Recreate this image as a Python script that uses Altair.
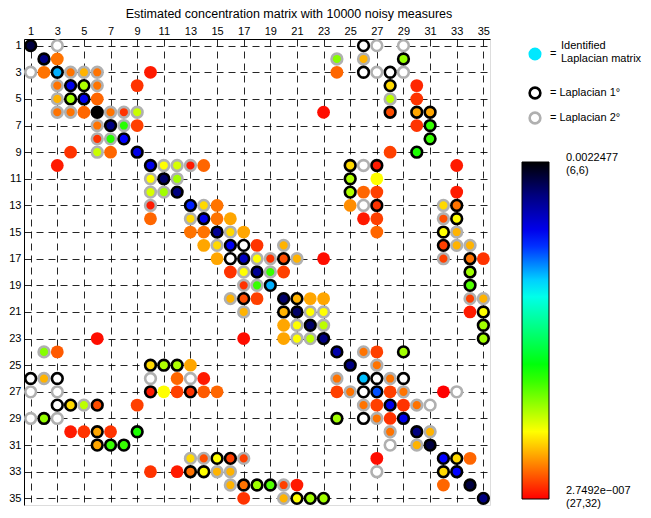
import altair as alt
import pandas as pd

title_text = "Estimated concentration matrix with 10000 noisy measures"
tick_values = list(range(1, 36, 2))

# cells: (row, col, position on the colour bar: 0 = red/min ... 1 = black/max)
plain_cells = [
    (2, 3, 0.09), (3, 2, 0.09), (3, 10, 0.02), (10, 3, 0.02), (4, 9, 0.04), (9, 4, 0.04),
    (5, 6, 0.08), (6, 5, 0.08), (7, 9, 0.05), (9, 7, 0.08), (3, 24, 0.08), (24, 3, 0.07),
    (6, 23, 0.01), (23, 6, 0.01), (4, 30, 0.03), (30, 4, 0.02), (5, 30, 0.04), (30, 5, 0.04),
    (7, 30, 0.04), (30, 7, 0.04), (9, 28, 0.05), (28, 9, 0.05), (10, 33, 0.02), (33, 10, 0.04),
    (12, 33, 0.02), (33, 12, 0.02), (10, 14, 0.08), (14, 10, 0.08), (13, 15, 0.09), (15, 13, 0.09),
    (14, 15, 0.09), (15, 14, 0.09), (14, 16, 0.13), (16, 14, 0.13), (15, 17, 0.13), (17, 15, 0.13),
    (16, 18, 0.04), (18, 16, 0.04), (18, 20, 0.05), (20, 18, 0.05), (17, 23, 0.01), (23, 17, 0.01),
    (20, 22, 0.13), (22, 20, 0.13), (20, 23, 0.13), (23, 20, 0.13), (11, 27, 0.2), (27, 11, 0.2),
    (12, 26, 0.08), (26, 12, 0.08), (12, 27, 0.05), (27, 12, 0.05), (13, 25, 0.11), (25, 13, 0.13),
    (14, 26, 0.02), (26, 14, 0.02), (14, 27, 0.05), (27, 14, 0.07), (15, 27, 0.08), (27, 15, 0.08),
    (17, 35, 0.04), (35, 17, 0.04), (21, 34, 0.02), (34, 21, 0.02), (24, 27, 0.05), (27, 24, 0.05),
    (27, 28, 0.05), (28, 27, 0.05), (28, 29, 0.04), (29, 28, 0.04), (27, 32, 0.0), (32, 27, 0.01),
    (32, 34, 0.08), (34, 32, 0.08),
]

black_ring_cells = [
    (1, 1, 0.95), (2, 2, 0.9), (3, 3, 0.67), (4, 4, 0.8), (5, 5, 0.8), (6, 6, 1.0),
    (7, 7, 0.9), (8, 8, 0.78), (9, 9, 0.8), (10, 10, 0.8), (11, 11, 0.92), (12, 12, 0.9),
    (13, 13, 0.76), (14, 14, 0.8), (15, 15, 0.88), (16, 16, 0.79), (17, 17, 0.84), (18, 18, 0.88),
    (19, 19, 0.67), (20, 20, 0.92), (21, 21, 0.92), (22, 22, 0.92), (23, 23, 0.9), (24, 24, 0.86),
    (25, 25, 0.9), (26, 26, 0.66), (27, 27, 0.73), (28, 28, 0.8), (29, 29, 0.8), (30, 30, 0.9),
    (31, 31, 0.95), (32, 32, 0.78), (33, 33, 0.78), (34, 34, 0.95), (35, 35, 0.9),
    (4, 5, 0.26), (5, 4, 0.27), (2, 29, 0.28), (29, 2, 0.28), (4, 28, 0.17), (28, 4, 0.17),
    (6, 28, 0.06), (28, 6, 0.06), (6, 30, 0.13), (30, 6, 0.13), (6, 31, 0.13), (31, 6, 0.13),
    (7, 31, 0.35), (31, 7, 0.35), (8, 31, 0.35), (31, 8, 0.35), (9, 30, 0.37), (30, 9, 0.37),
    (10, 25, 0.17), (25, 10, 0.17), (10, 27, 0.02), (27, 10, 0.02), (11, 25, 0.26), (25, 11, 0.26),
    (12, 25, 0.26), (25, 12, 0.26), (13, 27, 0.04), (27, 13, 0.04), (13, 33, 0.09), (33, 13, 0.09),
    (14, 33, 0.2), (33, 14, 0.2), (15, 32, 0.2), (32, 15, 0.2), (16, 32, 0.05), (32, 16, 0.05),
    (17, 20, 0.06), (20, 17, 0.06), (20, 21, 0.14), (21, 20, 0.14), (17, 34, 0.09), (34, 17, 0.09),
    (18, 34, 0.27), (34, 18, 0.27), (19, 34, 0.33), (34, 19, 0.33), (21, 35, 0.2), (35, 21, 0.2),
    (22, 35, 0.27), (35, 22, 0.27), (23, 35, 0.27), (35, 23, 0.27), (24, 29, 0.27), (29, 24, 0.27),
    (32, 33, 0.17), (33, 32, 0.17),
]

gray_ring_cells = [
    (3, 4, 0.09), (4, 3, 0.09), (3, 5, 0.14), (5, 3, 0.14), (3, 6, 0.09), (6, 3, 0.09),
    (4, 6, 0.09), (6, 4, 0.09), (6, 7, 0.09), (7, 6, 0.09), (6, 8, 0.04), (8, 6, 0.04),
    (6, 9, 0.24), (9, 6, 0.24), (7, 8, 0.36), (8, 7, 0.36), (2, 24, 0.29), (24, 2, 0.29),
    (2, 26, 0.14), (26, 2, 0.14), (5, 28, 0.25), (28, 5, 0.25), (10, 11, 0.2), (11, 10, 0.2),
    (10, 12, 0.23), (12, 10, 0.23), (11, 12, 0.27), (12, 11, 0.27), (10, 13, 0.02), (13, 10, 0.02),
    (13, 14, 0.17), (14, 13, 0.17), (15, 16, 0.17), (16, 15, 0.17), (16, 20, 0.14), (20, 16, 0.14),
    (17, 18, 0.2), (18, 17, 0.2), (17, 19, 0.04), (19, 17, 0.04), (17, 21, 0.14), (21, 17, 0.14),
    (18, 19, 0.35), (19, 18, 0.35), (21, 22, 0.2), (22, 21, 0.2), (21, 23, 0.2), (23, 21, 0.2),
    (22, 23, 0.25), (23, 22, 0.25), (13, 32, 0.17), (32, 13, 0.17), (14, 32, 0.06), (32, 14, 0.06),
    (15, 33, 0.14), (33, 15, 0.14), (16, 33, 0.14), (33, 16, 0.14), (16, 34, 0.14), (34, 16, 0.14),
    (17, 32, 0.05), (32, 17, 0.05), (20, 34, 0.05), (34, 20, 0.05), (20, 35, 0.14), (35, 20, 0.14),
    (24, 26, 0.09), (26, 24, 0.09), (25, 27, 0.09), (27, 25, 0.09), (26, 28, 0.09), (28, 26, 0.09),
    (27, 29, 0.09), (29, 27, 0.09), (28, 30, 0.09), (30, 28, 0.09), (30, 31, 0.14), (31, 30, 0.14),
]

black_ring_empty = [
    (1, 26), (26, 1), (3, 26), (26, 3), (3, 28), (28, 3), (16, 17), (17, 16),
    (26, 27), (27, 26), (26, 29), (29, 26),
]

gray_ring_empty = [
    (1, 3), (3, 1), (1, 27), (27, 1), (1, 29), (29, 1), (3, 27), (27, 3), (3, 29), (29, 3),
    (10, 26), (26, 10), (13, 26), (26, 13), (27, 33), (33, 27), (28, 31), (31, 28),
]

cbar_stops = [0.0, 0.1, 0.2, 0.39, 0.62, 0.78, 0.9, 1.0]
cbar_colors = ["#ff0000", "#ff8000", "#ffff00", "#00ff00", "#00ffff", "#0000ff", "#000080", "#000000"]
cbar_top_label = ["0.0022477", "(6,6)"]
cbar_bottom_label = ["2.7492e\u2212007", "(27,32)"]
ring_names = ["L1", "L2"]
ring_colors = ["#000000", "#b0b0b0"]
ring_labels = ["= Laplacian 1\u00b0", "= Laplacian 2\u00b0"]
ident_name = "Identified"
ident_text_name = "Identified text"
ident_lines = ["Identified", "Laplacian matrix"]
ident_color = "#00e8ff"

FONT = "Liberation Sans"


def js_list(items):
    return "[" + ", ".join("'" + s + "'" for s in items) + "]"


plain = pd.DataFrame(plain_cells, columns=["row", "col", "level"])
plain["ident"] = ident_name
plain["ident_text"] = ident_text_name
rings = pd.concat([
    pd.DataFrame(black_ring_cells, columns=["row", "col", "level"]).assign(ring=ring_names[0]),
    pd.DataFrame(gray_ring_cells, columns=["row", "col", "level"]).assign(ring=ring_names[1]),
])
empties = pd.concat([
    pd.DataFrame(black_ring_empty, columns=["row", "col"]).assign(ring=ring_names[0]),
    pd.DataFrame(gray_ring_empty, columns=["row", "col"]).assign(ring=ring_names[1]),
])

xscale = alt.Scale(domain=[0.5, 35.5], nice=False, zero=False)
yscale = alt.Scale(domain=[0.5, 35.5], nice=False, zero=False, reverse=True)
fill_scale = alt.Scale(domain=cbar_stops, range=cbar_colors, interpolate="rgb")
stroke_scale = alt.Scale(domain=ring_names, range=ring_colors)

grid_kw = dict(grid=True, gridDash=[7, 5], gridColor="#000000", gridWidth=1, gridOpacity=0.85,
               ticks=False, labelFontSize=11, labelFont=FONT, labelColor="#000000",
               domainColor="#000000", domainWidth=1, title=None, labelFlush=False)
x_enc = alt.X("col:Q", scale=xscale,
              axis=alt.Axis(orient="top", values=tick_values, labelPadding=3, labelAngle=0, **grid_kw))
y_enc = alt.Y("row:Q", scale=yscale,
              axis=alt.Axis(orient="left", values=tick_values, labelPadding=3, **grid_kw))

cbar_legend = alt.Legend(
    orient="none", legendX=498, legendY=123, direction="vertical", title=None, padding=0,
    gradientLength=337, gradientThickness=27, gradientStrokeColor="#000000", gradientStrokeWidth=1,
    values=[0.024, 1.031],
    labelExpr=f"datum.value >= 1 ? {js_list(cbar_top_label)} : {js_list(cbar_bottom_label)}",
    labelFontSize=11, labelFont=FONT, labelColor="#000000", labelOffset=17, labelOverlap=False,
)
fill_enc = alt.Fill("level:Q", scale=fill_scale, legend=cbar_legend)

ring_expr = f"datum.value == '{ring_names[0]}' ? '{ring_labels[0]}' : '{ring_labels[1]}'"
ring_legend = alt.Legend(
    orient="none", legendX=504, legendY=47, title=None, padding=0, symbolType="circle",
    symbolSize=115, symbolStrokeWidth=2.6, symbolFillColor="#ffffff", rowPadding=3,
    labelExpr=ring_expr, labelFontSize=11, labelFont=FONT, labelColor="#000000", labelOffset=8,
)
stroke_enc = alt.Stroke("ring:N", scale=stroke_scale, legend=ring_legend)

ident_legend = alt.Legend(
    orient="none", legendX=504, legendY=8, title=None, padding=0, symbolType="circle",
    symbolSize=170, symbolFillColor=ident_color, symbolStrokeColor=ident_color, symbolStrokeWidth=0,
    labelExpr="'='", labelFontSize=11, labelFont=FONT, labelColor="#000000", labelOffset=8,
)
ident_text_legend = alt.Legend(
    orient="none", legendX=504, legendY=0, title=None, padding=0, symbolType="circle",
    symbolSize=170, symbolOpacity=0, symbolStrokeWidth=0,
    labelExpr=js_list(ident_lines), labelFontSize=11, labelFont=FONT, labelColor="#000000",
    labelOffset=19,
)

base_plain = alt.Chart(plain).mark_point(filled=True, size=164, opacity=1, strokeWidth=0).encode(
    x=x_enc, y=y_enc, fill=fill_enc,
    shape=alt.Shape("ident:N", scale=alt.Scale(domain=[ident_name], range=["circle"]), legend=ident_legend),
    strokeDash=alt.StrokeDash("ident_text:N", scale=alt.Scale(domain=[ident_text_name], range=[[1, 0]]),
                              legend=ident_text_legend),
)
ring_layer = alt.Chart(rings).mark_circle(size=115, opacity=1, strokeWidth=2.6, strokeOpacity=1).encode(
    x=x_enc, y=y_enc, fill=fill_enc, stroke=stroke_enc,
)
empty_layer = alt.Chart(empties).mark_circle(size=115, opacity=1, strokeWidth=2.6, fill="#ffffff",
                                             strokeOpacity=1).encode(
    x=x_enc, y=y_enc, stroke=stroke_enc,
)

chart = alt.layer(base_plain, ring_layer, empty_layer).properties(
    width=466, height=466,
    title=alt.TitleParams(title_text, font=FONT, fontSize=12.5, fontWeight="normal", color="#000000",
                          anchor="middle", frame="group", dx=32, offset=5),
    padding={"left": 16, "top": 31, "right": 153, "bottom": 4},
    autosize=alt.AutoSizeParams(type="none"),
).configure_view(stroke="#808080", strokeWidth=1).configure(background="#ffffff")

chart.save("out.html", embed_options={"renderer": "svg", "actions": False})
